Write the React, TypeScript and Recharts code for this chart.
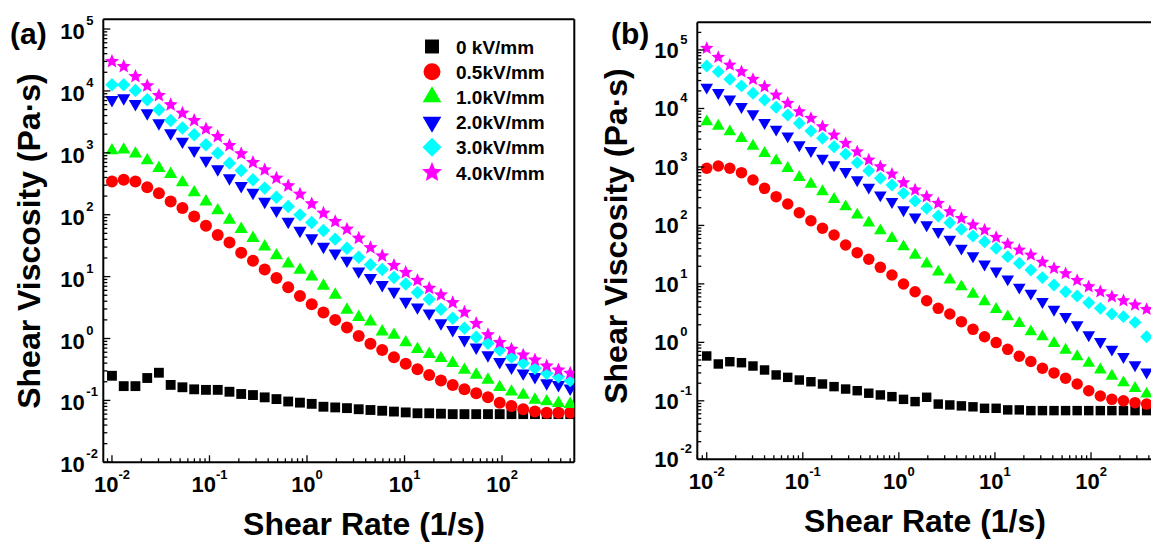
import React from 'react';
import { ScatterChart, Scatter, XAxis, YAxis, Legend } from 'recharts';

const FONT = '"Liberation Sans", Arial, Helvetica, sans-serif';

// shear rate steps of the sweep (1/s), shared by both panels
const SHEAR_RATE = [
  0.01, 0.0132, 0.0174, 0.023, 0.0303, 0.04, 0.0528, 0.0697, 0.092, 0.1215,
  0.1603, 0.2115, 0.2792, 0.3684, 0.4862, 0.6417, 0.8468, 1.118, 1.475, 1.947,
  2.569, 3.391, 4.475, 5.906, 7.795, 10.29, 13.58, 17.92, 23.65, 31.21,
  41.19, 54.36, 71.74, 94.68, 125.0, 164.9, 217.6, 287.2, 379.0, 500.0,
];

const FIELD_LABELS = ['0 kV/mm', '0.5kV/mm', '1.0kV/mm', '2.0kV/mm', '3.0kV/mm', '4.0kV/mm'];

// panel (a) viscosity, Pa·s
const A_0KV = [
  0.25, 0.17, 0.17, 0.23, 0.28, 0.178, 0.163, 0.151, 0.148, 0.148,
  0.138, 0.127, 0.122, 0.112, 0.105, 0.096, 0.092, 0.088, 0.079, 0.077,
  0.075, 0.072, 0.07, 0.068, 0.066, 0.064, 0.062, 0.062, 0.061, 0.06,
  0.06, 0.06, 0.06, 0.06, 0.06, 0.06, 0.06, 0.06, 0.06, 0.06,
];
const A_05KV = [
  344, 366, 344, 279, 223, 163, 128, 93.3, 66.1, 47.2,
  35.5, 24.4, 18, 13, 9.5, 6.75, 4.88, 3.58, 2.62, 2.0,
  1.5, 1.1, 0.82, 0.65, 0.5, 0.39, 0.32, 0.258, 0.21, 0.178,
  0.151, 0.13, 0.112, 0.092, 0.081, 0.072, 0.066, 0.063, 0.063, 0.063,
];
const A_1KV = [
  1090, 1120, 964, 751, 566, 453, 331, 228, 163, 117,
  82.6, 58.4, 41.8, 30.5, 21.9, 16.1, 12.8, 10.0, 7.08, 5.06,
  2.9, 2.21, 1.87, 1.29, 1.14, 0.86, 0.67, 0.56, 0.48, 0.4,
  0.31, 0.258, 0.214, 0.163, 0.138, 0.122, 0.102, 0.096, 0.09, 0.087,
];
const A_2KV = [
  7190, 7660, 6190, 4380, 3020, 2080, 1524, 1090, 751, 545,
  390, 293, 228, 163, 117, 77.5, 55.5, 41.8, 30.5, 23.9,
  18.2, 12.2, 9.6, 7.35, 5.73, 3.95, 3.2, 2.56, 1.77, 1.38,
  0.95, 0.72, 0.54, 0.42, 0.34, 0.275, 0.24, 0.19, 0.178, 0.157,
];
const A_3KV = [
  12560, 12560, 10160, 7190, 4960, 3330, 2510, 1954, 1347, 988,
  681, 517, 366, 269, 192, 136, 99.5, 74.7, 55.5, 40.3,
  28.8, 20.6, 15.5, 13.0, 9.7, 7.62, 5.52, 4.31, 2.97, 2.13,
  1.47, 1.05, 0.84, 0.65, 0.5, 0.4, 0.33, 0.275, 0.24, 0.21,
];
const A_4KV = [
  29900, 24800, 17100, 12100, 8440, 5970, 4380, 3330, 2440, 1835,
  1313, 964, 697, 531, 390, 293, 215, 150, 106, 77.5,
  58.4, 41.8, 29.4, 21.6, 15.2, 11.7, 8.7, 6.5, 5.06, 3.8,
  2.65, 1.75, 1.15, 0.86, 0.67, 0.54, 0.45, 0.36, 0.31, 0.275,
];

// panel (b) viscosity, Pa·s
const B_0KV = [
  0.585, 0.427, 0.467, 0.449, 0.394, 0.337, 0.277, 0.252, 0.227, 0.212,
  0.194, 0.175, 0.159, 0.149, 0.135, 0.126, 0.118, 0.106, 0.097, 0.115,
  0.088, 0.085, 0.082, 0.079, 0.0745, 0.0745, 0.07, 0.07, 0.068, 0.068,
  0.068, 0.068, 0.068, 0.068, 0.068, 0.068, 0.068, 0.068, 0.068, 0.068,
];
const B_05KV = [
  948, 1040, 948, 798, 598, 431, 310, 232, 165, 120,
  89.3, 68.5, 46.2, 34.2, 26.4, 19.2, 14.2, 9.96, 7.35, 5.16,
  3.82, 3.05, 2.26, 1.67, 1.25, 0.99, 0.76, 0.58, 0.47, 0.36,
  0.3, 0.243, 0.194, 0.149, 0.121, 0.106, 0.1, 0.093, 0.088, 0.085,
];
const B_1KV = [
  5940, 5010, 4010, 3090, 2280, 1710, 1280, 948, 665, 511,
  378, 280, 209, 151, 111, 81.3, 60.3, 43.3, 31.2, 22,
  16, 11.7, 8.95, 6.71, 4.97, 3.67, 2.75, 2.12, 1.52, 1.25,
  0.96, 0.74, 0.57, 0.44, 0.34, 0.266, 0.204, 0.164, 0.131, 0.11,
];
const B_2KV = [
  23000, 18600, 14400, 10700, 8050, 5710, 4400, 3380, 2380, 1900,
  1406, 1080, 830, 598, 449, 331, 255, 184, 138, 102,
  78.2, 57.9, 40.6, 30.0, 21.8, 16.5, 12.1, 8.75, 6.9, 4.97,
  3.67, 2.75, 1.98, 1.34, 1.03, 0.76, 0.57, 0.41, 0.31, 0.25,
];
const B_3KV = [
  53300, 42600, 31600, 24300, 18200, 14000, 10500, 7740, 5580, 4120,
  3090, 2220, 1660, 1183, 863, 640, 491, 354, 262, 196,
  145, 111, 85.9, 65.9, 52.7, 40.6, 29.2, 22.5, 17.3, 12.8,
  9.57, 7.35, 6.21, 4.77, 3.82, 3.05, 2.75, 2.2, 1.25, 0.95,
];
const B_4KV = [
  107000, 75000, 55400, 42600, 31600, 23600, 17000, 12300, 8810, 6790,
  4880, 3520, 2540, 1820, 1315, 1010, 757, 538, 404, 310,
  239, 172, 132, 102, 83.5, 62.7, 48.1, 38.0, 31.2, 23.5,
  18.5, 15.0, 11.5, 8.95, 7.35, 6.04, 5.16, 4.36, 3.67, 3.18,
];

const PANEL_A = [A_0KV, A_05KV, A_1KV, A_2KV, A_3KV, A_4KV];
const PANEL_B = [B_0KV, B_05KV, B_1KV, B_2KV, B_3KV, B_4KV];

// axis ranges
const X_DOMAIN_A: [number, number] = [0.00815, 551];
const Y_DOMAIN_A: [number, number] = [0.01, 143600];
const X_DOMAIN_B: [number, number] = [0.00798, 552];
const Y_DOMAIN_B: [number, number] = [0.01, 297800];

const SERIES_STYLE = [
  { color: '#000000', kind: 'square' },
  { color: '#FF0000', kind: 'circle' },
  { color: '#00FF00', kind: 'up' },
  { color: '#0000FF', kind: 'down' },
  { color: '#00FFFF', kind: 'diamond' },
  { color: '#FF00FF', kind: 'star' },
];

// log ticks: decades plus 2..9 minors inside the range
function logTicks(lo: number, hi: number) {
  const out: number[] = [];
  for (let e = Math.floor(Math.log10(lo)); e <= Math.floor(Math.log10(hi)); e++) {
    for (let m = 1; m <= 9; m++) {
      const v = m * Math.pow(10, e);
      if (v >= lo && v <= hi) out.push(v);
    }
  }
  return out;
}

const isDecade = (v: number) => Math.abs(Math.log10(v) - Math.round(Math.log10(v))) < 1e-6;

function Marker({ kind, cx, cy, s, color }: any) {
  if (cx == null || cy == null) return null;
  if (kind === 'square') {
    const a = s * 0.82;
    return <rect x={cx - a / 2} y={cy - a / 2} width={a} height={a} fill={color} />;
  }
  if (kind === 'circle') return <circle cx={cx} cy={cy} r={s / 2} fill={color} />;
  if (kind === 'up' || kind === 'down') {
    const w = s * 1.1;
    const h = s * 0.95;
    const d = kind === 'up' ? 1 : -1;
    const pts = `${cx},${cy - (d * h * 2) / 3} ${cx + w / 2},${cy + (d * h) / 3} ${cx - w / 2},${cy + (d * h) / 3}`;
    return <polygon points={pts} fill={color} />;
  }
  if (kind === 'diamond') {
    const r = s * 0.56;
    return <polygon points={`${cx},${cy - r} ${cx + r},${cy} ${cx},${cy + r} ${cx - r},${cy}`} fill={color} />;
  }
  // star
  const ro = s * 0.62;
  const ri = ro * 0.45;
  const pts = [];
  for (let i = 0; i < 10; i++) {
    const ang = ((-90 + i * 36) * Math.PI) / 180;
    const r = i % 2 ? ri : ro;
    pts.push(`${cx + r * Math.cos(ang)},${cy + r * Math.sin(ang)}`);
  }
  return <polygon points={pts.join(' ')} fill={color} />;
}

const labelStyle = { fontFamily: FONT, fontWeight: 700, fill: '#000' };

function YTick({ x, y, payload, dy }: any) {
  const v = payload.value;
  const major = isDecade(v);
  return (
    <g>
      <line x1={x} x2={x + (major ? 7 : 4)} y1={y} y2={y} stroke="#000" strokeWidth={1.3} />
      {major && (
        <g style={labelStyle}>
          <text x={x - 18.5} y={y + dy} textAnchor="end" fontSize={22}>10</text>
          <text x={x - 17} y={y + dy - 14} fontSize={13}>{Math.round(Math.log10(v))}</text>
        </g>
      )}
    </g>
  );
}

function XTick({ x, y, payload }: any) {
  const v = payload.value;
  const major = isDecade(v);
  return (
    <g>
      <line x1={x} x2={x} y1={y} y2={y - (major ? 7 : 4)} stroke="#000" strokeWidth={1.3} />
      {major && (
        <text x={x} y={y + 30} textAnchor="middle" fontSize={22} style={labelStyle}>
          10<tspan dy={-13} fontSize={13}>{Math.round(Math.log10(v))}</tspan>
        </text>
      )}
    </g>
  );
}

function LegendBox({ payload }: any) {
  return (
    <svg width={160} height={160} style={{ display: 'block', overflow: 'visible' }}>
      {(payload || []).map((item: any, i: number) => {
        const st = SERIES_STYLE[FIELD_LABELS.indexOf(item.value)] || SERIES_STYLE[0];
        const cy = 16.5 + i * 25.2;
        return (
          <g key={item.value}>
            <Marker kind={st.kind} cx={22} cy={cy} s={17} color={st.color} />
            <text x={46} y={cy + 7} fontSize={19} style={labelStyle}>
              {item.value}
            </text>
          </g>
        );
      })}
    </svg>
  );
}

const axisLine = { stroke: '#000', strokeWidth: 2 };

// axes are 1px thick boxes (recharts skips zero-size axes), margins already account for it
function Panel({ values, xDomain, yDomain, width, margin, tickDy, markerSize, legend }: any) {
  const xTicks = logTicks(xDomain[0], xDomain[1]);
  const yTicks = logTicks(yDomain[0], yDomain[1]);
  return (
    <ScatterChart width={width} height={545} margin={margin}>
      <XAxis
        dataKey="x"
        type="number"
        scale="log"
        domain={xDomain}
        allowDataOverflow
        ticks={xTicks}
        interval={0}
        height={1}
        tickSize={0}
        tickMargin={0}
        tickLine={false}
        axisLine={axisLine}
        tick={(p: any) => <XTick {...p} />}
      />
      <XAxis xAxisId="top" orientation="top" dataKey="x" type="number" scale="log" domain={xDomain}
        allowDataOverflow ticks={xTicks} height={1} tick={false} tickLine={false} axisLine={axisLine} />
      <YAxis
        dataKey="y"
        type="number"
        scale="log"
        domain={yDomain}
        allowDataOverflow
        ticks={yTicks}
        interval={0}
        width={1}
        tickSize={0}
        tickMargin={0}
        tickLine={false}
        axisLine={axisLine}
        tick={(p: any) => <YTick {...p} dy={tickDy} />}
      />
      <YAxis yAxisId="right" orientation="right" dataKey="y" type="number" scale="log" domain={yDomain}
        allowDataOverflow ticks={yTicks} width={1} tick={false} tickLine={false} axisLine={axisLine} />
      {values.map((vals: number[], i: number) => (
        <Scatter
          key={FIELD_LABELS[i]}
          name={FIELD_LABELS[i]}
          data={SHEAR_RATE.map((x, k) => ({ x, y: vals[k] }))}
          fill={SERIES_STYLE[i].color}
          isAnimationActive={false}
          shape={(p: any) => (
            <Marker kind={SERIES_STYLE[i].kind} cx={p.cx} cy={p.cy} s={markerSize} color={SERIES_STYLE[i].color} />
          )}
        />
      ))}
      {legend && (
        <Legend
          layout="vertical"
          align="center"
          verticalAlign="middle"
          wrapperStyle={{ position: 'absolute', left: 410, top: 30, width: 0, height: 0, overflow: 'visible' }}
          content={(p: any) => <LegendBox payload={p.payload} />}
        />
      )}
    </ScatterChart>
  );
}

export default function App() {
  return (
    <div style={{ position: 'absolute', left: 0, top: 0, width: 1151, height: 545, overflow: 'hidden', background: '#fff' }}>
      <div style={{ position: 'absolute', left: 0, top: 0 }}>
        <Panel
          values={PANEL_A}
          xDomain={X_DOMAIN_A}
          yDomain={Y_DOMAIN_A}
          width={590}
          margin={{ top: 18.3, right: 14.7, bottom: 81.7, left: 102.3 }}
          tickDy={10}
          markerSize={12}
          legend
        />
      </div>
      <div style={{ position: 'absolute', left: 590, top: 0 }}>
        <Panel
          values={PANEL_B}
          xDomain={X_DOMAIN_B}
          yDomain={Y_DOMAIN_B}
          width={600}
          margin={{ top: 21.3, right: 26.7, bottom: 84.7, left: 106.3 }}
          tickDy={8}
          markerSize={11.5}
        />
      </div>
      <svg width={1151} height={545} style={{ position: 'absolute', left: 0, top: 0, pointerEvents: 'none' }}>
        <g style={labelStyle}>
          <text x={10} y={44} fontSize={30}>(a)</text>
          <text x={611} y={44} fontSize={30}>(b)</text>
          <text x={40} y={241} fontSize={32} textAnchor="middle" transform="rotate(-90 40 241)">
            Shear Viscosity (Pa·s)
          </text>
          <text x={627} y={236} fontSize={32} textAnchor="middle" transform="rotate(-90 627 236)">
            Shear Viscosity (Pa·s)
          </text>
          <text x={364} y={535} fontSize={32} textAnchor="middle">Shear Rate (1/s)</text>
          <text x={925} y={532} fontSize={32} textAnchor="middle">Shear Rate (1/s)</text>
        </g>
      </svg>
    </div>
  );
}
